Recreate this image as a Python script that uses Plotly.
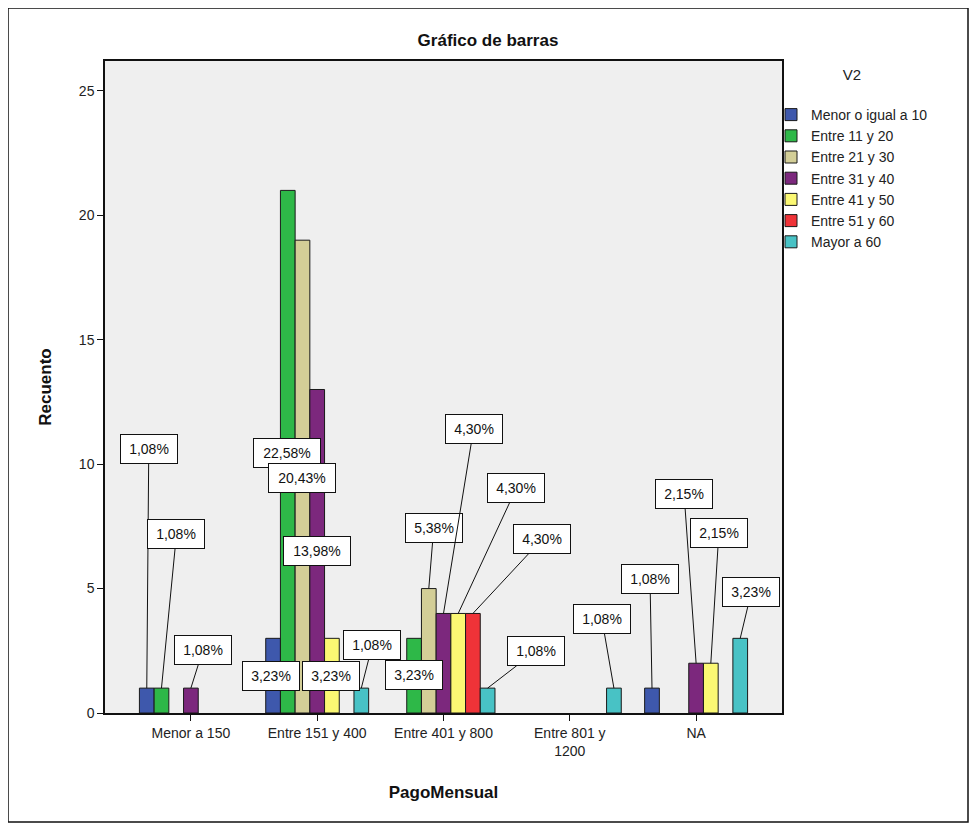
import plotly.graph_objects as go

# ---------------- data ----------------
categories = ["Menor a 150", "Entre 151 y 400", "Entre 401 y 800", "Entre 801 y 1200", "NA"]
tick_labels = ["Menor a 150", "Entre 151 y 400", "Entre 401 y 800", "Entre 801 y<br>1200", "NA"]
series_names = ["Menor o igual a 10", "Entre 11 y 20", "Entre 21 y 30", "Entre 31 y 40",
                "Entre 41 y 50", "Entre 51 y 60", "Mayor a 60"]

menor_igual_10 = [1, 3, None, None, 1]
entre_11_20 = [1, 21, 3, None, None]
entre_21_30 = [None, 19, 5, None, None]
entre_31_40 = [1, 13, 4, None, 2]
entre_41_50 = [None, 3, 4, None, 2]
entre_51_60 = [None, None, 4, None, None]
mayor_60 = [None, 1, 1, 1, 3]

series_values = [menor_igual_10, entre_11_20, entre_21_30, entre_31_40,
                 entre_41_50, entre_51_60, mayor_60]

# ---------------- style ----------------
colors = ["#3E58AC", "#2EB848", "#D3CE97", "#7C287D", "#FBF873", "#EF3338", "#48C2C5"]
FONT = "Liberation Sans, Arial, sans-serif"
bargap = 0.185
n_series = len(series_names)
slot = (1 - bargap) / n_series

# label box offsets (pixels, relative to bar top) and whether leader line is visible
label_style = {
    (0, 0): (2, -239, True), (1, 0): (15, -154, True), (3, 0): (12, -38, True),
    (0, 1): (-2, 38, False), (1, 1): (-1, 263, False), (2, 1): (0, 238, False),
    (3, 1): (0, 162, False), (4, 1): (-1, 38, False), (6, 1): (11, -43, True),
    (1, 2): (0, 37, False), (2, 2): (5, -61, True), (3, 2): (30, -184, True),
    (4, 2): (58, -125, True), (5, 2): (69, -74, True), (6, 2): (48, -37, True),
    (6, 3): (-12, -69, True),
    (0, 4): (-2, -109, True), (3, 4): (-12, -169, True), (4, 4): (8, -130, True),
    (6, 4): (11, -46, True),
}

total = sum(v for s in series_values for v in s if v is not None)

fig = go.Figure()
for name, vals, col in zip(series_names, series_values, colors):
    fig.add_trace(go.Bar(
        name=name, x=categories, y=vals,
        marker=dict(color=col, line=dict(color="#1a1a1a", width=1)),
    ))

annotations = []
for j, vals in enumerate(series_values):
    for i, v in enumerate(vals):
        if v is None:
            continue
        ax, ay, visible = label_style[(j, i)]
        pct = f"{100 * v / total:.2f}%".replace(".", ",")
        annotations.append(dict(
            x=i + (j - (n_series - 1) / 2) * slot, y=v, xref="x", yref="y",
            text=pct, showarrow=True, arrowhead=0, arrowwidth=1,
            arrowcolor="#111" if visible else "rgba(0,0,0,0)",
            ax=ax, ay=ay, standoff=0,
            width=46 if len(pct) <= 5 else 56, height=18,
            font=dict(family=FONT, size=14, color="#111"),
            bgcolor="white", bordercolor="#111", borderwidth=1, borderpad=5,
        ))

# page offset (body margin of the html page)
OFF = 8
W, H = 977 - OFF, 830 - OFF
L, R, T, B = 105 - OFF, 782 - OFF, 61 - OFF, 713 - OFF

def px2x(p):
    return (p - OFF - L) / (R - L)

def py2y(p):
    return (B - (p - OFF)) / (B - T)

fig.update_layout(
    width=W, height=H,
    margin=dict(l=L, r=W - R, t=T, b=H - B),
    paper_bgcolor="white", plot_bgcolor="#EFEFEF",
    barmode="group", bargap=bargap, bargroupgap=0,
    font=dict(family=FONT, size=13, color="#222"),
    title=dict(text="<b>Gráfico de barras</b>", x=(488 - OFF) / W, xanchor="center",
               y=1 - (40 - OFF) / H, yanchor="middle", yref="container",
               font=dict(size=17, color="#111")),
    legend=dict(title=dict(text="V2<br> ", side="top center", font=dict(size=15)),
                x=px2x(771), xanchor="left", y=py2y(60), yanchor="top",
                font=dict(size=14, color="#222"), itemwidth=30,
                bgcolor="rgba(0,0,0,0)", traceorder="normal"),
    xaxis=dict(range=[-0.68, 4.68], tickmode="array", tickvals=categories, ticktext=tick_labels,
               showline=True, linecolor="#111", linewidth=1.5, mirror=True,
               ticks="outside", ticklen=6, tickcolor="#111", showgrid=False,
               tickfont=dict(size=14, color="#222"),
               title=dict(text="<b>PagoMensual</b>", font=dict(size=17, color="#111"), standoff=28)),
    yaxis=dict(range=[0, 26.2], tickvals=[0, 5, 10, 15, 20, 25],
               showline=True, linecolor="#111", linewidth=1.5, mirror=True,
               ticks="outside", ticklen=6, tickcolor="#111", showgrid=False, zeroline=False,
               tickfont=dict(size=14, color="#222"),
               title=dict(text="<b>Recuento</b>", font=dict(size=17, color="#111"), standoff=23)),
    annotations=annotations,
    shapes=[dict(type="rect", xref="paper", yref="paper",
                 x0=px2x(8), x1=px2x(968), y0=py2y(822), y1=py2y(8),
                 line=dict(color="#111", width=1.5), fillcolor="rgba(0,0,0,0)")],
)

fig.write_html("out.html")
